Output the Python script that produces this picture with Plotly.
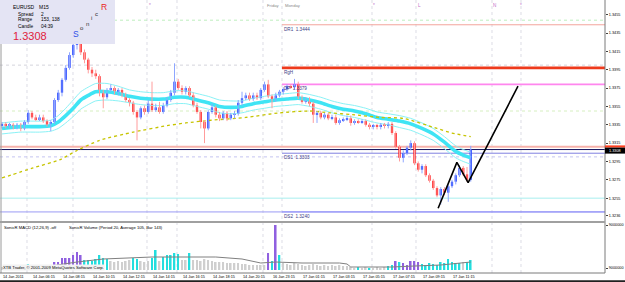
import plotly.graph_objects as go

# ---------------- data (EURUSD M15, bar index 0 = 14 Jan 2011 04:15) ----------------
open_ = [1.3334,1.3336,1.3334,1.3335,1.3333,1.3335,1.3331,1.3338,1.3348,1.3343,
         1.3341,1.3343,1.3339,1.3335,1.3338,1.3362,1.3370,1.3384,1.3397,1.3411,
         1.3422,1.3425,1.3414,1.3406,1.3395,1.3391,1.3388,1.3371,1.3365,1.3373,
         1.3375,1.3371,1.3373,1.3367,1.3362,1.3359,1.3349,1.3343,1.3353,1.3349,
         1.3358,1.3351,1.3354,1.3349,1.3356,1.3362,1.3370,1.3382,1.3375,1.3371,
         1.3375,1.3367,1.3356,1.3349,1.3338,1.3331,1.3349,1.3354,1.3346,1.3342,
         1.3348,1.3342,1.3346,1.3347,1.3359,1.3364,1.3367,1.3363,1.3367,1.3364,
         1.3373,1.3379,1.3366,1.3362,1.3367,1.3371,1.3374,1.3377,1.3376,1.3379,
         1.3365,1.3360,1.3363,1.3358,1.3346,1.3348,1.3343,1.3346,1.3342,1.3343,
         1.3337,1.3340,1.3341,1.3342,1.3337,1.3339,1.3338,1.3339,1.3335,1.3333,
         1.3334,1.3333,1.3335,1.3334,1.3336,1.3326,1.3311,1.3299,1.3304,1.3310,
         1.3315,1.3293,1.3286,1.3290,1.3280,1.3274,1.3266,1.3258,1.3265,1.3261,
         1.3268,1.3273,1.3280,1.3288,1.3281,1.3275]
close = [1.3336,1.3334,1.3335,1.3333,1.3335,1.3331,1.3338,1.3348,1.3343,1.3341,
         1.3343,1.3339,1.3335,1.3338,1.3362,1.3370,1.3384,1.3397,1.3411,1.3422,
         1.3425,1.3414,1.3406,1.3395,1.3391,1.3388,1.3371,1.3365,1.3373,1.3375,
         1.3371,1.3373,1.3367,1.3362,1.3359,1.3349,1.3343,1.3353,1.3349,1.3358,
         1.3351,1.3354,1.3349,1.3356,1.3362,1.3370,1.3382,1.3375,1.3371,1.3375,
         1.3367,1.3356,1.3349,1.3338,1.3331,1.3349,1.3354,1.3346,1.3342,1.3348,
         1.3342,1.3346,1.3347,1.3359,1.3364,1.3367,1.3363,1.3367,1.3364,1.3373,
         1.3379,1.3366,1.3362,1.3367,1.3371,1.3374,1.3377,1.3376,1.3379,1.3365,
         1.3360,1.3363,1.3358,1.3346,1.3348,1.3343,1.3346,1.3342,1.3343,1.3337,
         1.3340,1.3341,1.3342,1.3337,1.3339,1.3338,1.3339,1.3335,1.3333,1.3334,
         1.3333,1.3335,1.3334,1.3336,1.3326,1.3311,1.3299,1.3304,1.3310,1.3315,
         1.3293,1.3286,1.3290,1.3280,1.3274,1.3266,1.3258,1.3265,1.3261,1.3268,
         1.3273,1.3280,1.3288,1.3281,1.3275,1.3308]
high = [1.3338,1.3338,1.3337,1.3337,1.3337,1.3337,1.3340,1.3351,1.3350,1.3346,
        1.3346,1.3346,1.3341,1.3340,1.3364,1.3373,1.3386,1.3400,1.3414,1.3427,
        1.3432,1.3427,1.3417,1.3408,1.3398,1.3395,1.3390,1.3373,1.3375,1.3379,
        1.3377,1.3375,1.3375,1.3370,1.3364,1.3361,1.3351,1.3355,1.3356,1.3362,
        1.3382,1.3358,1.3360,1.3359,1.3365,1.3373,1.3402,1.3385,1.3378,1.3377,
        1.3377,1.3370,1.3359,1.3351,1.3340,1.3351,1.3358,1.3356,1.3349,1.3350,
        1.3350,1.3348,1.3350,1.3362,1.3371,1.3370,1.3370,1.3370,1.3370,1.3375,
        1.3382,1.3384,1.3368,1.3370,1.3373,1.3376,1.3379,1.3379,1.3385,1.3382,
        1.3367,1.3365,1.3365,1.3360,1.3350,1.3350,1.3348,1.3348,1.3346,1.3346,
        1.3342,1.3343,1.3345,1.3345,1.3341,1.3341,1.3341,1.3341,1.3337,1.3336,
        1.3336,1.3337,1.3337,1.3338,1.3338,1.3328,1.3313,1.3307,1.3312,1.3318,
        1.3317,1.3295,1.3292,1.3292,1.3282,1.3276,1.3268,1.3267,1.3267,1.3270,
        1.3275,1.3282,1.3291,1.3290,1.3289,1.3312]
low = [1.3331,1.3331,1.3331,1.3330,1.3330,1.3328,1.3329,1.3336,1.3341,1.3339,
       1.3339,1.3337,1.3333,1.3328,1.3336,1.3360,1.3366,1.3382,1.3395,1.3408,
       1.3417,1.3411,1.3402,1.3391,1.3387,1.3385,1.3366,1.3353,1.3363,1.3371,
       1.3368,1.3367,1.3365,1.3360,1.3355,1.3346,1.3318,1.3341,1.3346,1.3347,
       1.3349,1.3349,1.3347,1.3347,1.3354,1.3360,1.3367,1.3373,1.3368,1.3368,
       1.3365,1.3354,1.3347,1.3331,1.3315,1.3329,1.3347,1.3343,1.3339,1.3340,
       1.3339,1.3340,1.3342,1.3345,1.3356,1.3362,1.3361,1.3361,1.3362,1.3362,
       1.3371,1.3364,1.3353,1.3360,1.3365,1.3368,1.3372,1.3374,1.3374,1.3363,
       1.3358,1.3358,1.3355,1.3337,1.3337,1.3341,1.3341,1.3340,1.3340,1.3335,
       1.3335,1.3338,1.3339,1.3334,1.3335,1.3336,1.3336,1.3333,1.3330,1.3330,
       1.3330,1.3330,1.3331,1.3331,1.3324,1.3309,1.3295,1.3294,1.3302,1.3307,
       1.3291,1.3284,1.3282,1.3278,1.3272,1.3264,1.3256,1.3248,1.3258,1.3251,
       1.3266,1.3270,1.3278,1.3279,1.3273,1.3273]

# Sonic R dragon (EMA 34 close / high / low) and slow EMA, read at sampled bars
ma_bars = [0,5,10,13,15,17,19,21,23,25,28,31,34,37,40,43,46,49,52,55,58,61,64,67,70,
           73,76,79,82,85,88,91,94,97,100,103,106,109,112,115,118,121,123,125]
dragon_mid = [1.3331,1.3333,1.3333,1.3334,1.3338,1.3345,1.3353,1.3362,1.3367,1.3371,1.3371,
              1.3369,1.3366,1.3364,1.3363,1.3363,1.3365,1.3365,1.3362,1.3359,1.3355,1.3354,
              1.3355,1.3358,1.3360,1.3362,1.3363,1.3364,1.3362,1.3359,1.3355,1.3352,1.3350,
              1.3347,1.3343,1.3341,1.3339,1.3336,1.3331,1.3325,1.3316,1.3306,1.3302,1.3299]
dragon_high = [1.3337,1.3339,1.3339,1.3340,1.3345,1.3353,1.3362,1.3371,1.3376,1.3380,1.3380,
               1.3377,1.3373,1.3371,1.3370,1.3370,1.3372,1.3372,1.3369,1.3366,1.3362,1.3361,
               1.3361,1.3364,1.3366,1.3368,1.3369,1.3370,1.3368,1.3365,1.3361,1.3358,1.3356,
               1.3353,1.3349,1.3347,1.3345,1.3342,1.3337,1.3331,1.3322,1.3312,1.3308,1.3305]
dragon_low = [1.3325,1.3327,1.3327,1.3328,1.3331,1.3337,1.3344,1.3352,1.3357,1.3361,1.3362,
              1.3361,1.3359,1.3357,1.3356,1.3356,1.3358,1.3358,1.3355,1.3352,1.3348,1.3347,
              1.3348,1.3351,1.3353,1.3355,1.3356,1.3357,1.3355,1.3352,1.3348,1.3345,1.3343,
              1.3340,1.3337,1.3335,1.3332,1.3329,1.3324,1.3318,1.3309,1.3299,1.3295,1.3292]
slow_bars = [0,8.3,15.5,20,26,35,44,49,56,65,74,82,87.5,93.5,101,107,116,120,125]
slow_ma = [1.3277,1.3288,1.3297,1.3307,1.3318,1.3327,1.3334,1.3337,1.3340,1.3343,1.3348,
           1.3350,1.3348,1.3346,1.3343,1.3342,1.3331,1.3326,1.3322]

# zigzag pattern drawn by the trader
zig_bars = [116.3, 121.3, 124.3, 137.6]
zig_price = [1.3244, 1.3294, 1.3272, 1.3377]

# SonicR volume (ticks) and its class: g=normal, c=above average, p=climax
volume = [150,200,150,250,150,200,250,300,250,200,150,200,150,200,
          400,400,600,600,600,750,900,750,
          500,500,450,550,750,600,550,
          450,400,450,400,450,500,600,550,450,400,450,
          600,1000,450,650,750,750,850,800,500,500,850,
          500,500,450,550,500,450,400,400,400,350,350,350,350,300,300,250,250,250,250,
          250,850,450,2250,750,
          350,300,250,350,300,250,200,250,300,250,200,250,200,250,200,250,200,200,
          150,100,150,100,150,100,100,150,100,150,200,250,
          450,400,350,250,450,450,400,
          300,250,350,300,250,400,350,550,400,350,350,400,400,500]
vol_class = (list("gcgcgccccggcgg") + list("pppppppp") + list("ccccccc") +
             list("ggggggcc") + list("ggg") + list("ccgccccc") + list("ggc") +
             list("ggggggggggggggggggg") + list("gpcpc") +
             list("gggggggggggggggggg") + list("ggcggcggggcc") +
             list("pcppppp") + list("cccccccccccgcc"))
avg_bars = [0,13,20,27,40,57,64,69,73,80,90,92,93,104,110,117,125]
avg_vol = [100,200,400,550,650,650,550,350,400,350,350,300,150,150,200,250,400]

tick_bars = [0,8,16,24,32,40,48,56,64,72,80,88,96,104,112,120]
tick_text = ["14 Jan 2011","14 Jan 06:15","14 Jan 08:15","14 Jan 10:15","14 Jan 12:15",
             "14 Jan 14:15","14 Jan 16:15","14 Jan 18:15","14 Jan 20:15","16 Jan 23:15",
             "17 Jan 01:15","17 Jan 03:15","17 Jan 05:15","17 Jan 07:15","17 Jan 09:15",
             "17 Jan 11:15"]
price_ticks = [1.3455,1.3435,1.3415,1.3395,1.3375,1.3355,1.3335,1.3315,1.3295,1.3275,1.3255,1.3236]
session_bars = [6.67,18.93,38.67,46.67,69.6,74.67,98.67,110.4,130.67,138.4]
monday_bar = 74.67
levels_full = [(1.3449,'#bdeebd','dot',1),(1.3400,'#d4d4dc','dot',1),(1.3350,'#d6efc0','dot',1),
               (1.3311,'#f7b2aa','solid',2),(1.3308,'#14145e','solid',1),
               (1.3300,'#c4c4f0','dot',1),(1.3255,'#a8eeee','solid',1),(1.3240,'#9a9af4','solid',1)]
levels_day = [(1.3444,'#f3a49c',1,'DR1  1.3444'),(1.3397,'#ee3a1c',2.6,'RgH'),
              (1.3379,'#ff86ee',1.6,'DP  1.3379'),(1.3304,'#8080e0',1,'DS1  1.3303'),
              (1.3240,'#8e8ef8',1,'DS2  1.3240')]

# ---------------- figure ----------------
W, H = 625, 282
PW, PH = 605, 273
n = len(close)
X0 = -2/3.75
X1 = X0 + PW/3.75
FONT = "Liberation Sans"

def px(x): return x/PW
def py(y): return 1 - y/PH

fig = go.Figure()

# dragon + slow ema
for arr, col, wd in [(dragon_high,'#8af2f6',1),(dragon_low,'#8af2f6',1),(dragon_mid,'#3fe4f4',3.6)]:
    fig.add_trace(go.Scatter(x=ma_bars, y=arr, mode='lines', line=dict(color=col, width=wd, shape='spline', smoothing=0.6),
                             hoverinfo='skip', showlegend=False))
fig.add_trace(go.Scatter(x=slow_bars, y=slow_ma, mode='lines',
                         line=dict(color='#c6c400', width=1.3, dash='dot', shape='spline', smoothing=0.6),
                         hoverinfo='skip', showlegend=False))

# candles: wicks then bodies
for up, wcol, bcol in [(True,'#8ea6ff','#1838ff'),(False,'#ff9c9c','#ff1010')]:
    idx = [i for i in range(n) if (close[i] >= open_[i]) == up]
    wx, wy = [], []
    for i in idx:
        wx += [i, i, None]; wy += [low[i], high[i], None]
    fig.add_trace(go.Scatter(x=wx, y=wy, mode='lines', line=dict(color=wcol, width=1),
                             hoverinfo='skip', showlegend=False))
    fig.add_trace(go.Bar(x=idx, base=[min(open_[i], close[i]) for i in idx],
                         y=[max(abs(close[i]-open_[i]), 0.00004) for i in idx],
                         width=0.6, marker=dict(color=bcol, line=dict(width=0)),
                         hoverinfo='skip', showlegend=False))

# zigzag
fig.add_trace(go.Scatter(x=zig_bars, y=zig_price, mode='lines', line=dict(color='#000000', width=1.6),
                         hoverinfo='skip', showlegend=False))

# volume
cmap = {'g':'#cfcfcf','c':'#22dede','p':'#9060e0'}
fig.add_trace(go.Bar(x=list(range(n)), y=volume, width=0.42,
                     marker=dict(color=[cmap[c] for c in vol_class], line=dict(width=0)),
                     xaxis='x2', yaxis='y2', hoverinfo='skip', showlegend=False))
fig.add_trace(go.Scatter(x=avg_bars, y=avg_vol, mode='lines', line=dict(color='#808080', width=1),
                         xaxis='x2', yaxis='y2', hoverinfo='skip', showlegend=False))

shapes = []
for b in session_bars:
    shapes.append(dict(type='line', xref='x', yref='paper', x0=b, x1=b, y0=0, y1=1,
                       line=dict(color='#cdcdda', width=0.7, dash='dot'), layer='below'))
for v, col, dsh, wd in levels_full:
    shapes.append(dict(type='line', xref='paper', yref='y', x0=0, x1=1, y0=v, y1=v,
                       line=dict(color=col, width=wd, dash=dsh), layer='below'))
for v, col, wd, lab in levels_day:
    shapes.append(dict(type='line', xref='x', yref='y', x0=monday_bar, x1=X1, y0=v, y1=v,
                       line=dict(color=col, width=wd), layer='below'))

# frame
shapes += [
    dict(type='line', xref='paper', yref='paper', x0=1, x1=1, y0=0, y1=1, line=dict(color='#7a7a7a', width=1)),
    dict(type='line', xref='paper', yref='paper', x0=px(1), x1=px(1), y0=0, y1=1, line=dict(color='#9a9a9a', width=1)),
    dict(type='line', xref='paper', yref='paper', x0=0, x1=1, y0=py(222), y1=py(222), line=dict(color='#a0a0a0', width=2)),
    dict(type='line', xref='paper', yref='paper', x0=0, x1=1, y0=0, y1=0, line=dict(color='#7a7a7a', width=1)),
    dict(type='line', xref='paper', yref='paper', x0=0, x1=W/PW, y0=py(281.2), y1=py(281.2), line=dict(color='#202020', width=2)),
    dict(type='rect', xref='paper', yref='paper', x0=0, x1=px(115), y0=py(44), y1=1,
         fillcolor='#e4e4f4', line=dict(width=0), layer='above'),
    dict(type='rect', xref='paper', yref='paper', x0=1, x1=W/PW, y0=py(147.6), y1=py(145.4),
         fillcolor='#ff4020', line=dict(width=0), layer='above'),
    dict(type='rect', xref='paper', yref='paper', x0=1, x1=W/PW, y0=py(153.6), y1=py(147.6),
         fillcolor='#000000', line=dict(width=0), layer='above'),
]

ann = []
def T(x, y, s, size=4.2, color='#000000', anchor='left', **kw):
    ann.append(dict(x=px(x), y=py(y), xref='paper', yref='paper', text=s, showarrow=False,
                    xanchor=anchor, yanchor='middle', font=dict(family=FONT, size=size, color=color),
                    borderpad=0, **kw))

# x-axis labels
for b, s in zip(tick_bars, tick_text):
    ann.append(dict(x=b, y=0, xref='x', yref='paper', text=s, showarrow=False, xanchor='left',
                    yanchor='top', yshift=-1, font=dict(family=FONT, size=3.8, color='#000000'), borderpad=0))
# level labels
for v, col, wd, lab in levels_day:
    ann.append(dict(x=monday_bar, y=v, xref='x', yref='y', text=lab, showarrow=False, xanchor='left',
                    yanchor='top', yshift=-1, xshift=1, font=dict(family=FONT, size=4.6, color='#3c3c84'),
                    borderpad=0))
# info box
T(12, 6.5, "EURUSD", 5.0)
T(38, 6.5, "M15", 5.0)
T(17, 14, "Spread", 4.8); T(40, 14, "2", 4.8)
T(17, 20, "Range", 4.8); T(40, 20, "153, 138", 4.8)
T(17, 26.5, "Candle", 4.8); T(40, 26.5, "04:39", 4.8)
T(12, 36.5, "1.3308", 11, '#e0203c')
T(72, 34, "S", 8.5, '#2f50e8')
T(79, 28, "o", 6, '#303030')
T(85, 23.5, "n", 6, '#303030')
T(90, 18.5, "i", 6, '#303030')
T(94, 13.5, "c", 6, '#303030')
T(100, 7, "R", 8.5, '#e82424')
# top markers
T(281, 5, "Friday", 4.2, '#8a8a8a', anchor='right')
T(284, 5, "Monday", 4.2, '#8a8a8a')
for x, s in [(148, "*"), (372, "*"), (417, "L"), (492, "N"), (519, "*")]:
    T(x, 5, s, 4.6, '#c070c8')
# sub-window texts
T(3, 227.5, "SonicR MACD (12,26,9) -off", 4.2)
T(68, 227.5, "SonicR Volume (Period 20, Average 105, Bar 143)", 4.2)
T(2, 267.5, "XTB Trader, \u00a9 2001-2009 MetaQuotes Software Corp.", 4.2, bgcolor='#f2f2f2')
# current price box text
T(607.5, 150.6, "1.3308", 3.8, '#ffffff')

fig.update_layout(
    width=W, height=H, margin=dict(l=0, r=W-PW, t=0, b=H-PH),
    paper_bgcolor='#ffffff', plot_bgcolor='#ffffff', barmode='overlay', showlegend=False,
    xaxis=dict(range=[X0, X1], anchor='y', domain=[0, 1], showgrid=False, zeroline=False,
               showticklabels=False, ticks=''),
    xaxis2=dict(range=[X0, X1], anchor='y2', domain=[0, 1], matches='x', showgrid=False,
                zeroline=False, showticklabels=False, ticks=''),
    yaxis=dict(domain=[1-221/PH, 1], range=[1.34710-221*0.000109, 1.34710], side='right',
               showgrid=False, zeroline=False, tickvals=price_ticks,
               ticktext=[f"{v:.4f}" for v in price_ticks], ticks='outside', ticklen=2,
               tickcolor='#404040', tickfont=dict(family=FONT, size=3.8, color='#000000')),
    yaxis2=dict(domain=[0, 50/PH], range=[-150, 2350], side='right', anchor='x2',
                showgrid=False, zeroline=False, tickvals=[2250, 100],
                ticktext=["9000000", "9000000"], ticks='outside', ticklen=2, tickcolor='#404040',
                tickfont=dict(family=FONT, size=3.8, color='#000000')),
    shapes=shapes, annotations=ann,
)

fig.write_html("out.html")
